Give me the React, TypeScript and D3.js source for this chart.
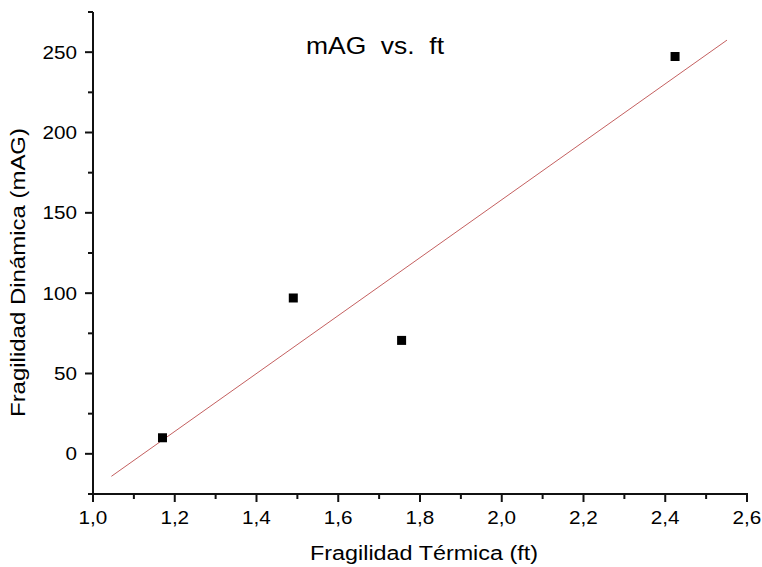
import React from "react";
import * as d3 from "d3";

const ftValues = [1.17, 1.49, 1.755, 2.424];
const magValues = [10, 97, 70.6, 247.3];
const fitX = [1.045, 2.551];
const fitY = [-14, 257.5];
const xMajorTicks = [1.0, 1.2, 1.4, 1.6, 1.8, 2.0, 2.2, 2.4, 2.6];
const xMinorTicks = [1.1, 1.3, 1.5, 1.7, 1.9, 2.1, 2.3, 2.5];
const yMajorTicks = [0, 50, 100, 150, 200, 250];
const yMinorTicks = [-25, 25, 75, 125, 175, 225, 275];
const titleText = "mAG  vs.  ft";
const xLabel = "Fragilidad Térmica (ft)";
const yLabel = "Fragilidad Dinámica (mAG)";

const W = 762;
const H = 567;
const FONT = "'Liberation Sans', Arial, sans-serif";

export default function App() {
  const x = d3.scaleLinear().domain([1.0, 2.6]).range([93, 747]);
  const y = d3.scaleLinear().domain([-25, 275]).range([494, 12]);
  const line = d3
    .line<number>()
    .x((d) => x(d))
    .y((_, i) => y(fitY[i]));
  const fmt = (v: number) => d3.format(".1f")(v).replace(".", ",");

  const x0 = x.range()[0];
  const y0 = y.range()[0];
  const tX = 306;

  return (
    <svg
      width={W}
      height={H}
      style={{ position: "absolute", left: 0, top: 0, background: "#fff" }}
    >
      <rect x={0} y={0} width={W} height={H} fill="#fff" />
      <path d={line(fitX) || ""} fill="none" stroke="#c46060" strokeWidth={1} />
      {ftValues.map((v, i) => (
        <rect
          key={i}
          x={x(v) - 4.5}
          y={y(magValues[i]) - 4.5}
          width={9}
          height={9}
          fill="#000"
        />
      ))}
      <line x1={x0} x2={x0} y1={y.range()[1]} y2={y0 + 1} stroke="#111" strokeWidth={2} />
      <line x1={x0 - 1} x2={x.range()[1] + 1} y1={y0} y2={y0} stroke="#111" strokeWidth={2} />
      {xMajorTicks.map((t) => (
        <g key={"xm" + t}>
          <line x1={x(t)} x2={x(t)} y1={y0} y2={y0 + 8} stroke="#111" strokeWidth={2} />
          <text
            x={x(t)}
            y={524}
            textAnchor="middle"
            fontFamily={FONT}
            fontSize={18}
            transform={`translate(${x(t)},0) scale(1.15,1) translate(${-x(t)},0)`}
          >
            {fmt(t)}
          </text>
        </g>
      ))}
      {xMinorTicks.map((t) => (
        <line key={"xn" + t} x1={x(t)} x2={x(t)} y1={y0} y2={y0 + 5} stroke="#111" strokeWidth={2} />
      ))}
      {yMajorTicks.map((t) => (
        <g key={"ym" + t}>
          <line x1={x0 - 8} x2={x0} y1={y(t)} y2={y(t)} stroke="#111" strokeWidth={2} />
          <text
            x={77}
            y={y(t) + 6.5}
            textAnchor="end"
            fontFamily={FONT}
            fontSize={18}
            transform={`translate(77,0) scale(1.15,1) translate(-77,0)`}
          >
            {t}
          </text>
        </g>
      ))}
      {yMinorTicks.map((t) => (
        <line key={"yn" + t} x1={x0 - 5} x2={x0} y1={y(t)} y2={y(t)} stroke="#111" strokeWidth={2} />
      ))}
      <text
        x={tX}
        y={54.5}
        fontFamily={FONT}
        fontSize={23}
        style={{ whiteSpace: "pre" }}
        transform={`translate(${tX},0) scale(1.15,1) translate(${-tX},0)`}
      >
        {titleText}
      </text>
      <text
        x={310}
        y={560}
        fontFamily={FONT}
        fontSize={19.5}
        textLength={228}
        lengthAdjust="spacingAndGlyphs"
      >
        {xLabel}
      </text>
      <text
        transform={`translate(25,417) rotate(-90)`}
        x={0}
        y={0}
        fontFamily={FONT}
        fontSize={21}
        textLength={289}
        lengthAdjust="spacingAndGlyphs"
      >
        {yLabel}
      </text>
    </svg>
  );
}
